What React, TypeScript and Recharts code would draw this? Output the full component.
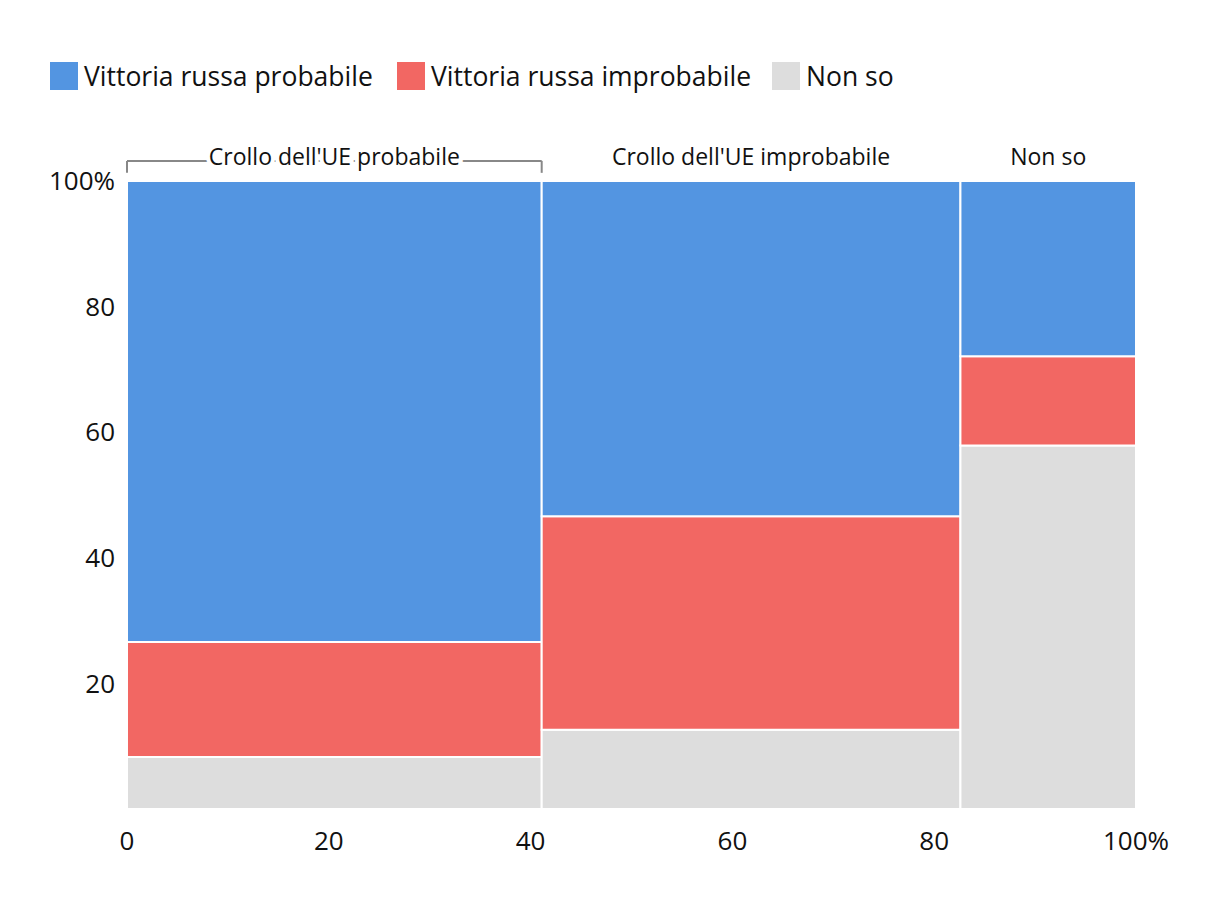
import React from "react"
import { ComposedChart, XAxis, YAxis, ReferenceArea, ReferenceLine, Scatter } from "recharts"

const columns = ["Crollo dell'UE probabile", "Crollo dell'UE improbabile", "Non so"]
const columnWidths = [41.1, 41.5, 17.4] // share of respondents per column (%)

// stacked bottom-up: Non so, improbabile, probabile
const russiaProbable = [73.4, 53.4, 27.9]
const russiaImprobable = [18.3, 34.0, 14.2]
const dontKnow = [8.3, 12.6, 57.9]

const seriesNames = ["Vittoria russa probabile", "Vittoria russa improbabile", "Non so"]
const COLORS = ["#5395e1", "#f26763", "#dddddd"]

const xTicks = [0, 20, 40, 60, 80, 100]
const yTicks = [20, 40, 60, 80, 100]

const FONT = "'Open Sans', 'Noto Sans', sans-serif"

// cumulative x positions of the columns
const columnStarts = columnWidths.map((_, i) =>
  columnWidths.slice(0, i).reduce((a, b) => a + b, 0)
)
const columnCenters = columnStarts.map((s, i) => s + columnWidths[i] / 2)

// one rectangle per cell, stacked from the bottom
const cells = columns.flatMap((_, i) => {
  const stack = [dontKnow[i], russiaImprobable[i], russiaProbable[i]]
  const colorIdx = [2, 1, 0]
  let base = 0
  return stack.map((v, k) => {
    const cell = {
      key: `${i}-${k}`,
      x1: columnStarts[i],
      x2: columnStarts[i] + columnWidths[i],
      y1: base,
      y2: base + v,
      fill: COLORS[colorIdx[k]],
    }
    base += v
    return cell
  })
})

// anchor points so the chart has data to lay out its axes
const anchorData = columnCenters.map((c, i) => ({ x: c, y: 50, name: columns[i] }))

const pct = (v: number) => (v === 100 ? "100%" : String(v))

function TopTick(props: any) {
  const { x, y, payload } = props
  const idx = columnCenters.findIndex((c) => Math.abs(c - payload.value) < 1e-6)
  return (
    <text
      x={x}
      y={y - 16}
      textAnchor="middle"
      fontSize={23}
      fontFamily={FONT}
      fill="#111"
      stroke="#fff"
      strokeWidth={8}
      paintOrder="stroke"
    >
      {columns[idx] ?? ""}
    </text>
  )
}

const legendLefts = [42, 389, 764]

export default function App() {
  const bracketY = 103.2
  const bracketEnd = 101.3
  const b0 = columnStarts[0]
  const b1 = columnStarts[0] + columnWidths[0]
  return (
    <div style={{ position: "relative", width: 1204, height: 900, fontFamily: FONT }}>
      <ComposedChart
        width={1204}
        height={900}
        data={anchorData}
        margin={{ top: 133, right: 76, bottom: 59, left: 39 }}
      >
        <XAxis
          xAxisId="bottom"
          dataKey="x"
          type="number"
          domain={[0, 100]}
          ticks={xTicks}
          tickFormatter={pct}
          axisLine={false}
          tickLine={false}
          tickMargin={17}
          height={40}
          allowDataOverflow
          tick={{ fontSize: 26, fill: "#111", fontFamily: FONT }}
        />
        <XAxis
          xAxisId="top"
          dataKey="x"
          orientation="top"
          type="number"
          domain={[0, 100]}
          ticks={columnCenters}
          axisLine={false}
          tickLine={false}
          tickSize={0}
          tickMargin={0}
          height={40}
          interval={0}
          tick={<TopTick />}
        />
        <YAxis
          dataKey="y"
          type="number"
          domain={[0, 100]}
          ticks={yTicks}
          tickFormatter={pct}
          axisLine={false}
          tickLine={false}
          tickMargin={6}
          width={80}
          tick={{ fontSize: 26, fill: "#111", fontFamily: FONT }}
        />
        {cells.map((c) => (
          <ReferenceArea
            key={c.key}
            xAxisId="bottom"
            x1={c.x1}
            x2={c.x2}
            y1={c.y1}
            y2={c.y2}
            fill={c.fill}
            fillOpacity={1}
            stroke="#ffffff"
            strokeWidth={2}
            ifOverflow="visible"
          />
        ))}
        <ReferenceLine
          xAxisId="bottom"
          segment={[{ x: b0, y: bracketY }, { x: b1, y: bracketY }]}
          stroke="#888"
          strokeWidth={2}
          ifOverflow="visible"
        />
        <ReferenceLine
          xAxisId="bottom"
          segment={[{ x: b0, y: bracketY }, { x: b0, y: bracketEnd }]}
          stroke="#888"
          strokeWidth={2}
          ifOverflow="visible"
        />
        <ReferenceLine
          xAxisId="bottom"
          segment={[{ x: b1, y: bracketY }, { x: b1, y: bracketEnd }]}
          stroke="#888"
          strokeWidth={2}
          ifOverflow="visible"
        />
        <Scatter
          xAxisId="bottom"
          dataKey="y"
          isAnimationActive={false}
          shape={() => <g />}
        />
      </ComposedChart>
      {seriesNames.map((name, i) => (
        <div
          key={name}
          style={{
            position: "absolute",
            left: legendLefts[i],
            top: 54,
            display: "flex",
            alignItems: "center",
            height: 28,
          }}
        >
          <div style={{ width: 28, height: 28, background: COLORS[i], marginRight: 6 }} />
          <span style={{ fontSize: 26.5, color: "#111", whiteSpace: "nowrap" }}>{name}</span>
        </div>
      ))}
    </div>
  )
}
